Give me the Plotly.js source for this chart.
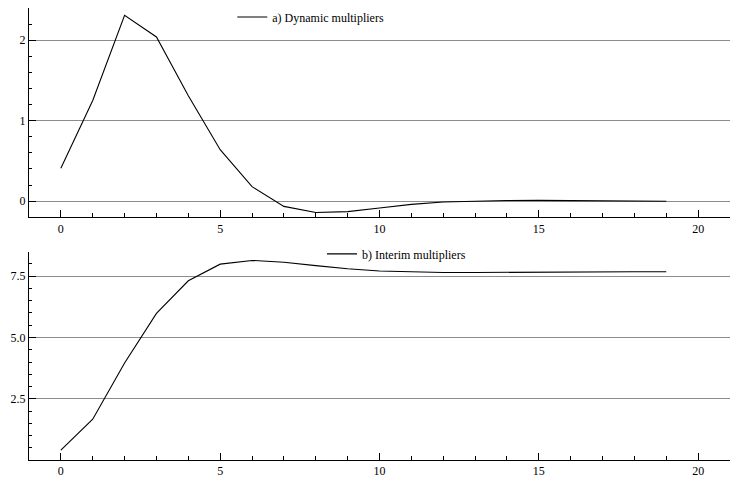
<!DOCTYPE html>
<html>
<head>
<meta charset="utf-8">
<script src="https://cdn.plot.ly/plotly-3.0.1.min.js"></script>
<style>html,body{margin:0;padding:0;background:#fff;}#chart{width:730px;height:477px;}</style>
</head>
<body>
<div id="chart"></div>
<script>
const lags = [0,1,2,3,4,5,6,7,8,9,10,11,12,13,14,15,16,17,18,19];
const dynamicMult = [0.41,1.25,2.31,2.04,1.31,0.64,0.18,-0.065,-0.14,-0.13,-0.085,-0.04,-0.01,0.003,0.008,0.01,0.008,0.005,0.002,0.0];
const interimMult = [0.41,1.67,3.96,5.98,7.31,7.99,8.14,8.07,7.93,7.80,7.71,7.67,7.65,7.65,7.66,7.67,7.67,7.68,7.68,7.68];
const seriesNames = ['a) Dynamic multipliers','b) Interim multipliers'];

const FONT = 'Liberation Serif, Times New Roman, serif';
const traces = [
  {x: lags, y: dynamicMult, type:'scatter', mode:'lines', name: seriesNames[0],
   line:{color:'#000', width:1.1}, xaxis:'x', yaxis:'y', legend:'legend'},
  {x: lags, y: interimMult, type:'scatter', mode:'lines', name: seriesNames[1],
   line:{color:'#000', width:1.1}, xaxis:'x2', yaxis:'y2', legend:'legend2'}
];
function xax(anchor){
  return {anchor: anchor, domain:[0,1], range:[-1,21], dtick:5, tick0:0, ticks:'inside', ticklen:7, tickcolor:'#000',
    showline:true, linecolor:'#000', linewidth:1, showgrid:false, zeroline:false,
    minor:{dtick:1, ticks:'inside', ticklen:4, tickcolor:'#000', showgrid:false},
    tickfont:{family:FONT, size:12, color:'#000'}};
}
function yax(anchor, domain, range, dtick, tick0, mdtick, fmt){
  return {anchor: anchor, domain: domain, range: range, dtick: dtick, tick0:tick0, ticks:'inside', ticklen:7,
    tickcolor:'#000', showline:true, linecolor:'#000', linewidth:1, showgrid:true, gridcolor:'#8c8c8c',
    gridwidth:1, zeroline:false, tickformat: fmt,
    minor:{dtick: mdtick, tick0:0, ticks:'inside', ticklen:3, tickcolor:'#000', showgrid:false},
    tickfont:{family:FONT, size:12, color:'#000'}};
}
const layout = {
  width:730, height:477,
  margin:{l:29, r:0, t:8, b:17},
  paper_bgcolor:'#fff', plot_bgcolor:'#fff',
  font:{family:FONT, size:12, color:'#000'},
  showlegend:true,
  xaxis: xax('y'),
  yaxis: yax('x', [0.537,1], [-0.2,2.4], 1, 0, 0.2, 'd'),
  xaxis2: xax('y2'),
  yaxis2: yax('x2', [0,0.461], [0.005,8.5], 2.5, 0, 0.5, '.1f'),
  legend:{x:0.29, y:0.980, xanchor:'left', yanchor:'middle', bgcolor:'rgba(0,0,0,0)', itemwidth:30,
    font:{family:FONT, size:12, color:'#000'}},
  legend2:{x:0.418, y:0.456, xanchor:'left', yanchor:'middle', bgcolor:'rgba(0,0,0,0)', itemwidth:30,
    font:{family:FONT, size:12, color:'#000'}}
};
Plotly.newPlot('chart', traces, layout, {displayModeBar:false, staticPlot:true});
</script>
</body>
</html>
